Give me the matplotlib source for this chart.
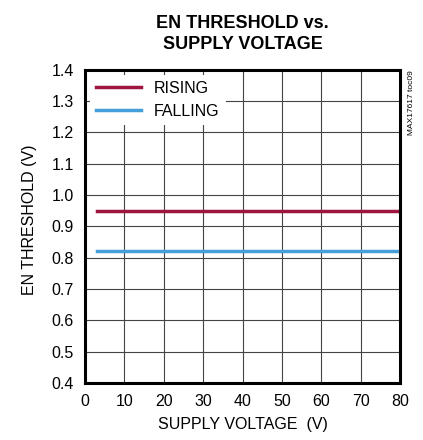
import matplotlib
matplotlib.use('Agg')
import matplotlib.pyplot as plt

plt.rcParams['font.family'] = ['Liberation Sans', 'DejaVu Sans']

supply_v = [3, 80]
rising = [0.95, 0.95]
falling = [0.82, 0.82]
x_ticks = [0, 10, 20, 30, 40, 50, 60, 70, 80]
y_ticks = [0.4, 0.5, 0.6, 0.7, 0.8, 0.9, 1.0, 1.1, 1.2, 1.3, 1.4]

fig = plt.figure(figsize=(4.23, 4.40), dpi=100)
ax = fig.add_axes([0.201, 0.1295, 0.745, 0.712])

ax.plot(supply_v, rising, color='#9e1540', lw=2.5, label='RISING')
ax.plot(supply_v, falling, color='#45a0da', lw=2.5, label='FALLING')

ax.set_xlim(0, 80)
ax.set_ylim(0.4, 1.4)
ax.set_xticks(x_ticks)
ax.set_yticks(y_ticks)
ax.set_yticklabels([f'{v:.1f}' for v in y_ticks])
ax.grid(True, color='#444444', lw=0.8)
ax.tick_params(length=0, labelsize=11.5, pad=8)
for s in ax.spines.values():
    s.set_linewidth(2.2)

ax.set_xlabel('SUPPLY VOLTAGE  (V)', fontsize=11.5, labelpad=6)
ax.set_ylabel('EN THRESHOLD (V)', fontsize=11.5)
ax.yaxis.set_label_coords(-0.153, 0.52)
ax.set_title('EN THRESHOLD vs.\nSUPPLY VOLTAGE', fontsize=13, fontweight='bold', pad=15, linespacing=1.3)

leg = ax.legend(loc='upper left', frameon=True, fancybox=False, fontsize=11.5,
                handlelength=2.8, borderaxespad=0.3, framealpha=1)
leg.get_frame().set_edgecolor('none')

fig.text(0.965, 0.841, 'MAX17617 toc09', rotation=90, fontsize=6, ha='left', va='top')

fig.savefig('out.png', dpi=100)
